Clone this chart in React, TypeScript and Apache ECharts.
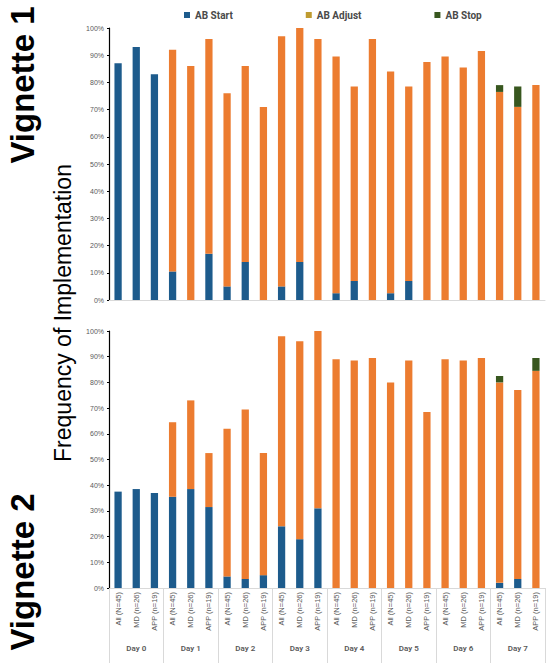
import React, { useEffect, useRef } from "react";
import * as echarts from "echarts";

const groupLabels = [
  "All (N=45)", "MD (n=26)", "APP (n=19)",
  "All (N=45)", "MD (n=26)", "APP (n=19)",
  "All (N=45)", "MD (n=26)", "APP (n=19)",
  "All (N=45)", "MD (n=26)", "APP (n=19)",
  "All (N=45)", "MD (n=26)", "APP (n=19)",
  "All (N=45)", "MD (n=26)", "APP (n=19)",
  "All (N=45)", "MD (n=26)", "APP (n=19)",
  "All (N=45)", "MD (n=26)", "APP (n=19)",
];
const dayLabels = ["Day 0", "Day 1", "Day 2", "Day 3", "Day 4", "Day 5", "Day 6", "Day 7"];
const yTicks = [0, 10, 20, 30, 40, 50, 60, 70, 80, 90, 100];

// Vignette 1
const v1Start = [87, 93, 83, 10.5, 0, 17, 5, 14, 0, 5, 14, 0, 2.5, 7, 0, 2.5, 7, 0, 0, 0, 0, 0, 0, 0];
const v1Adjust = [0, 0, 0, 81.5, 86, 79, 71, 72, 71, 92, 86, 96, 87, 71.5, 96, 81.5, 71.5, 87.5, 89.5, 85.5, 91.5, 76.5, 71, 79];
const v1Stop = [0, 0, 0, 0, 0, 0, 0, 0, 0, 0, 0, 0, 0, 0, 0, 0, 0, 0, 0, 0, 0, 2.5, 7.5, 0];

// Vignette 2
const v2Start = [37.5, 38.5, 37, 35.5, 38.5, 31.5, 4.5, 3.5, 5, 24, 19, 31, 0, 0, 0, 0, 0, 0, 0, 0, 0, 2, 3.5, 0];
const v2Adjust = [0, 0, 0, 29, 34.5, 21, 57.5, 66, 47.5, 74, 77, 69, 89, 88.5, 89.5, 80, 88.5, 68.5, 89, 88.5, 89.5, 78, 73.5, 84.5];
const v2Stop = [0, 0, 0, 0, 0, 0, 0, 0, 0, 0, 0, 0, 0, 0, 0, 0, 0, 0, 0, 0, 0, 2.5, 0, 5];

const C_START = "#1D5B8C";
const C_ADJUST = "#EC7C30";
const C_ADJUST_KEY = "#BF9B30";
const C_STOP = "#38571F";
const GRAY = "#595959";
const LIGHT = "#D9D9D9";
const FONT = "Liberation Sans, Arial, sans-serif";

export default function App() {
  const ref = useRef<HTMLDivElement>(null);

  useEffect(() => {
    if (!ref.current) return;
    const chart = echarts.init(ref.current, undefined, { renderer: "svg" });

    const yAxisBase = (gridIndex: number) => ({
      type: "value" as const,
      gridIndex,
      min: yTicks[0],
      max: yTicks[yTicks.length - 1],
      interval: yTicks[1] - yTicks[0],
      axisLine: { show: true, lineStyle: { color: "#000", width: 1.2 } },
      axisTick: { show: true, length: 2, lineStyle: { color: "#000" } },
      splitLine: { show: false },
      axisLabel: { fontSize: 7, color: GRAY, margin: 5, fontFamily: FONT, formatter: "{value}%" },
    });

    const barSeries = (name: string, data: number[], color: string, axis: number) => ({
      name,
      type: "bar" as const,
      stack: "s" + axis,
      xAxisIndex: axis,
      yAxisIndex: axis,
      data,
      barWidth: "40%",
      itemStyle: { color },
    });

    chart.setOption({
      animation: false,
      legend: {
        top: 5,
        left: 179,
        itemWidth: 6,
        itemHeight: 6,
        itemGap: 73,
        icon: "rect",
        textStyle: { fontSize: 10, fontWeight: 700, color: "#4A4A4A", fontFamily: "Roboto, sans-serif" },
        data: [
          { name: "AB Start" },
          { name: "AB Adjust", itemStyle: { color: C_ADJUST_KEY } },
          { name: "AB Stop" },
        ],
      },
      grid: [
        { left: 109, right: 5, top: 28, height: 272 },
        { left: 109, right: 5, top: 331, height: 257 },
      ],
      xAxis: [
        {
          type: "category",
          gridIndex: 0,
          data: groupLabels,
          axisLine: { lineStyle: { color: LIGHT } },
          axisTick: { show: false },
          axisLabel: { show: false },
        },
        {
          type: "category",
          gridIndex: 1,
          data: groupLabels,
          axisLine: { lineStyle: { color: LIGHT } },
          axisTick: { show: false },
          axisLabel: { rotate: 90, interval: 0, fontSize: 7.5, color: GRAY, margin: 4, fontFamily: FONT },
        },
        {
          type: "category",
          gridIndex: 1,
          data: dayLabels,
          position: "bottom",
          axisLine: { show: false },
          axisTick: { show: true, length: 76, lineStyle: { color: LIGHT } },
          axisLabel: { fontSize: 8, fontWeight: 600, color: GRAY, margin: 56, fontFamily: "Roboto, sans-serif" },
        },
      ],
      yAxis: [yAxisBase(0), yAxisBase(1)],
      series: [
        barSeries("AB Start", v1Start, C_START, 0),
        barSeries("AB Adjust", v1Adjust, C_ADJUST, 0),
        barSeries("AB Stop", v1Stop, C_STOP, 0),
        barSeries("AB Start", v2Start, C_START, 1),
        barSeries("AB Adjust", v2Adjust, C_ADJUST, 1),
        barSeries("AB Stop", v2Stop, C_STOP, 1),
      ],
      graphic: [
        {
          type: "text",
          x: 22,
          y: 85,
          rotation: Math.PI / 2,
          style: {
            text: "Vignette 1",
            font: `bold 33px ${FONT}`,
            fill: "#000",
            textAlign: "center",
            textVerticalAlign: "middle",
          },
        },
        {
          type: "text",
          x: 22,
          y: 572,
          rotation: Math.PI / 2,
          style: {
            text: "Vignette 2",
            font: `bold 33px ${FONT}`,
            fill: "#000",
            textAlign: "center",
            textVerticalAlign: "middle",
          },
        },
        {
          type: "text",
          x: 63,
          y: 313,
          rotation: Math.PI / 2,
          style: {
            text: "Frequency of Implementation",
            font: `23px ${FONT}`,
            fill: "#000",
            textAlign: "center",
            textVerticalAlign: "middle",
          },
        },
      ],
    });

    return () => chart.dispose();
  }, []);

  return (
    <div
      ref={ref}
      style={{ position: "fixed", left: 0, top: 0, width: 550, height: 663, background: "#fff" }}
    />
  );
}
